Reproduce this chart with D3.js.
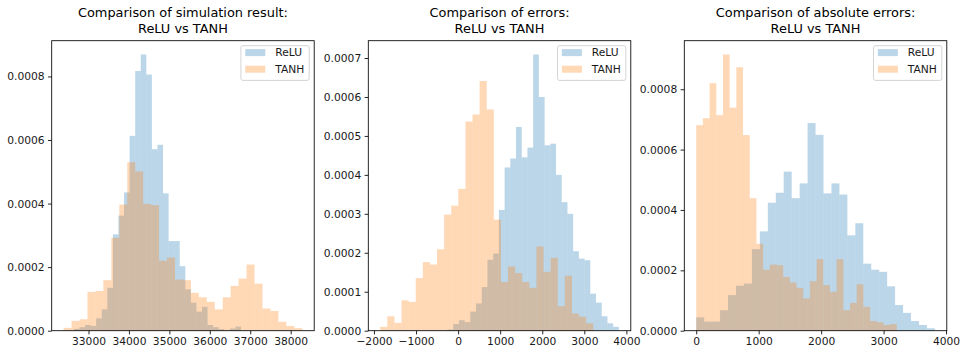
<!DOCTYPE html>
<html>
<head>
<meta charset="utf-8">
<script src="https://cdnjs.cloudflare.com/ajax/libs/d3/7.8.5/d3.min.js"></script>
<style>
  html, body { margin: 0; padding: 0; background: #fff; }
  svg { display: block; font-family: "DejaVu Sans", sans-serif; }
</style>
</head>
<body>
<svg id="chart" width="965" height="351"></svg>
<script>
// series labels and panel titles
const seriesNames = ['ReLU', 'TANH'];
const titleLines = [
  ['Comparison of simulation result:', 'ReLU vs TANH'],
  ['Comparison of errors:', 'ReLU vs TANH'],
  ['Comparison of absolute errors:', 'ReLU vs TANH']
];

// histogram data: [first edge, last edge] of 30 equal bins + density per bin
const simReluRange = [32640, 36771];
const simReluDensity = [0.000006, 0.000011, 0.000018, 0.000015, 0.000039, 0.000067, 0.000135, 0.000303,
  0.000362, 0.000435, 0.000613, 0.000817, 0.000869, 0.000806, 0.000571, 0.000585, 0.000432, 0.000282,
  0.000282, 0.000203, 0.000130, 0.000088, 0.000060, 0.000075, 0.000018, 0.000011, 0.000005, 0.000001,
  0.000007, 0.000013];
const simTanhRange = [32385, 38287];
const simTanhDensity = [0.000009, 0.000031, 0.000036, 0.000122, 0.000125, 0.000159, 0.000292, 0.000397,
  0.000530, 0.000501, 0.000399, 0.000395, 0.000220, 0.000230, 0.000161, 0.000159, 0.000119, 0.000105,
  0.000091, 0.000067, 0.000105, 0.000141, 0.000164, 0.000208, 0.000148, 0.000070, 0.000062, 0.000028,
  0.000015, 0.000008];

const errReluRange = [-253, 3821];
const errReluDensity = [0.000003, 0.000017, 0.000027, 0.000022, 0.000049, 0.000070, 0.000112, 0.000182,
  0.000198, 0.000310, 0.000419, 0.000442, 0.000523, 0.000445, 0.000470, 0.000709, 0.000600, 0.000476,
  0.000480, 0.000400, 0.000330, 0.000300, 0.000204, 0.000185, 0.000181, 0.000095, 0.000072, 0.000037,
  0.000019, 0.000010];
const errTanhRange = [-1851, 3212];
const errTanhDensity = [0.000010, 0.000037, 0.000020, 0.000078, 0.000074, 0.000135, 0.000176, 0.000170,
  0.000209, 0.000298, 0.000321, 0.000364, 0.000537, 0.000555, 0.000641, 0.000568, 0.000285, 0.000125,
  0.000165, 0.000148, 0.000125, 0.000110, 0.000216, 0.000151, 0.000187, 0.000063, 0.000141, 0.000044,
  0.000036, 0.000019];

const absReluRange = [0, 3821];
const absReluDensity = [0.000044, 0.000030, 0.000030, 0.000068, 0.000118, 0.000149, 0.000156, 0.000270,
  0.000329, 0.000424, 0.000457, 0.000527, 0.000439, 0.000488, 0.000688, 0.000649, 0.000455, 0.000488,
  0.000451, 0.000316, 0.000356, 0.000222, 0.000202, 0.000195, 0.000147, 0.000085, 0.000059, 0.000032,
  0.000019, 0.000008];
const absTanhRange = [0, 3212];
const absTanhDensity = [0.000681, 0.000704, 0.000820, 0.000714, 0.000915, 0.000739, 0.000873, 0.000648,
  0.000439, 0.000288, 0.000202, 0.000219, 0.000217, 0.000178, 0.000160, 0.000142, 0.000107, 0.000164,
  0.000237, 0.000151, 0.000129, 0.000237, 0.000068, 0.000092, 0.000154, 0.000079, 0.000032, 0.000028,
  0.000019, 0.000022];

// tick values
const simXTicks = [33000, 34000, 35000, 36000, 37000, 38000];
const simYTicks = [0, 0.0002, 0.0004, 0.0006, 0.0008];
const errXTicks = [-2000, -1000, 0, 1000, 2000, 3000, 4000];
const errYTicks = [0, 0.0001, 0.0002, 0.0003, 0.0004, 0.0005, 0.0006, 0.0007];
const absXTicks = [0, 1000, 2000, 3000, 4000];
const absYTicks = [0, 0.0002, 0.0004, 0.0006, 0.0008];

const panels = [
  { titles: titleLines[0], relu: [simReluRange, simReluDensity], tanh: [simTanhRange, simTanhDensity], xTicks: simXTicks, yTicks: simYTicks },
  { titles: titleLines[1], relu: [errReluRange, errReluDensity], tanh: [errTanhRange, errTanhDensity], xTicks: errXTicks, yTicks: errYTicks },
  { titles: titleLines[2], relu: [absReluRange, absReluDensity], tanh: [absTanhRange, absTanhDensity], xTicks: absXTicks, yTicks: absYTicks }
];

const colors = ['#1f77b4', '#ff7f0e'];
const lefts = [51.7, 368.3, 684.3];
const axW = 262.5, axTop = 40.7, axBottom = 330.7;
const tickFont = 10.7, titleFont = 12.9;

const svg = d3.select('#chart');

panels.forEach((p, i) => {
  const left = lefts[i], right = left + axW;
  const series = [p.relu, p.tanh];

  // x domain like matplotlib: data limits with 5% margins
  const lo = d3.min(series, s => s[0][0]);
  const hi = d3.max(series, s => s[0][1]);
  const pad = (hi - lo) * 0.05;
  const x = d3.scaleLinear().domain([lo - pad, hi + pad]).range([left, right]);
  const ymax = d3.max(series, s => d3.max(s[1])) * 1.05;
  const y = d3.scaleLinear().domain([0, ymax]).range([axBottom, axTop]);

  const g = svg.append('g');

  series.forEach((s, k) => {
    const [range, dens] = s;
    const edge = d3.scaleLinear().domain([0, dens.length]).range(range);
    g.append('g')
      .selectAll('rect')
      .data(dens)
      .join('rect')
        .attr('x', (d, j) => x(edge(j)))
        .attr('width', (d, j) => x(edge(j + 1)) - x(edge(j)))
        .attr('y', d => y(d))
        .attr('height', d => y(0) - y(d))
        .attr('fill', colors[k])
        .attr('fill-opacity', 0.3);
  });

  // axes
  const xAxis = g.append('g')
    .attr('transform', `translate(0,${axBottom})`)
    .call(d3.axisBottom(x).tickValues(p.xTicks).tickFormat(d3.format('d')).tickSizeOuter(0).tickSize(3.7).tickPadding(3.2));
  const yAxis = g.append('g')
    .attr('transform', `translate(${left},0)`)
    .call(d3.axisLeft(y).tickValues(p.yTicks).tickFormat(d3.format('.4f')).tickSizeOuter(0).tickSize(3.7).tickPadding(3.4));
  [xAxis, yAxis].forEach(a => {
    a.select('.domain').remove();
    a.selectAll('line').attr('stroke', '#000').attr('stroke-width', 0.85);
    a.selectAll('text').attr('font-size', tickFont).attr('fill', '#1a1a1a')
      .attr('font-family', '"DejaVu Sans", sans-serif');
  });

  // spines
  g.append('rect')
    .attr('x', left).attr('y', axTop)
    .attr('width', axW).attr('height', axBottom - axTop)
    .attr('fill', 'none').attr('stroke', '#000').attr('stroke-width', 0.85);

  // title
  const cx = left + axW / 2;
  p.titles.forEach((t, j) => {
    g.append('text')
      .attr('x', cx).attr('y', 17.3 + j * 15.2)
      .attr('text-anchor', 'middle')
      .attr('font-size', titleFont)
      .attr('fill', '#000')
      .text(t);
  });

  // legend
  const lw = 68.3, lh = 34.7;
  const lx = right - 5 - lw, ly = axTop + 5;
  const leg = g.append('g').attr('transform', `translate(${lx},${ly})`);
  leg.append('rect')
    .attr('width', lw).attr('height', lh).attr('rx', 2)
    .attr('fill', '#fff').attr('fill-opacity', 0.8)
    .attr('stroke', '#cccccc').attr('stroke-width', 0.85);
  seriesNames.forEach((n, k) => {
    leg.append('rect')
      .attr('x', 4.4).attr('y', 3.4 + k * 16.6)
      .attr('width', 20).attr('height', 7)
      .attr('fill', colors[k]).attr('fill-opacity', 0.3);
    leg.append('text')
      .attr('x', 34.3).attr('y', 10.8 + k * 16.6)
      .attr('font-size', tickFont).attr('fill', '#1a1a1a')
      .text(n);
  });
});
</script>
</body>
</html>
